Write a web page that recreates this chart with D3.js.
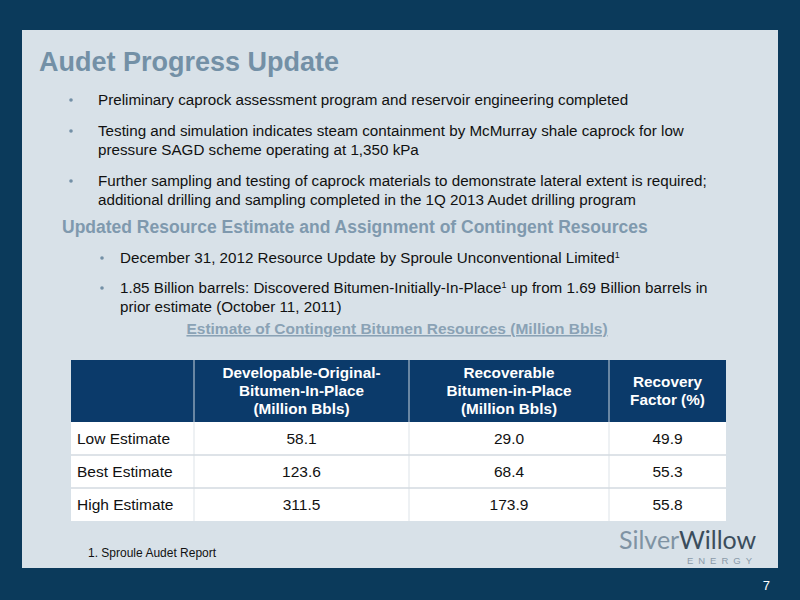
<!DOCTYPE html>
<html><head><meta charset="utf-8">
<script src="https://cdn.jsdelivr.net/npm/d3@7"></script>
<style>body{margin:0;}svg{display:block;font-family:"Liberation Sans",Arial,sans-serif;}</style>
</head><body>
<script>
const title = "Audet Progress Update";
const bullets1 = [
  ["Preliminary caprock assessment program and reservoir engineering completed"],
  ["Testing and simulation indicates steam containment by McMurray shale caprock for low","pressure SAGD scheme operating at 1,350 kPa"],
  ["Further sampling and testing of caprock materials to demonstrate lateral extent is required;","additional drilling and sampling completed in the 1Q 2013 Audet drilling program"]
];
const subtitle = "Updated Resource Estimate and Assignment of Contingent Resources";
const tableTitle = "Estimate of Contingent Bitumen Resources (Million Bbls)";
const headers = [[""],["Developable-Original-","Bitumen-In-Place","(Million Bbls)"],["Recoverable","Bitumen-in-Place","(Million Bbls)"],["Recovery","Factor (%)"]];
const rowLabels = ["Low Estimate","Best Estimate","High Estimate"];
const dobip = ["58.1","123.6","311.5"];
const rbip = ["29.0","68.4","173.9"];
const recovery = ["49.9","55.3","55.8"];

const W=800,H=600;
const svg=d3.select("body").append("svg").attr("width",W).attr("height",H);
svg.append("rect").attr("width",W).attr("height",H).attr("fill","#0b3a5b");
svg.append("rect").attr("x",22).attr("y",30).attr("width",756).attr("height",538).attr("fill","#d8e1e8");
svg.append("text").attr("x",39).attr("y",71).attr("font-size",27).attr("font-weight","bold").attr("fill","#7390a6").text(title);

function bullet(x,y,lines,size,gap){
  svg.append("circle").attr("cx",x).attr("cy",y-5).attr("r",1.8).attr("fill","#7390a6");
  lines.forEach((l,i)=>{
    const t=svg.append("text").attr("x",x+gap).attr("y",y+i*19).attr("font-size",size).attr("fill","#111");
    if(Array.isArray(l)) l.forEach(p=>{const s=t.append("tspan").text(p.t); if(p.sup) s.attr("font-size",9).attr("dy",-5); else if(p.after) s.attr("dy",5);});
    else t.text(l);
  });
}
bullet(71,105,bullets1[0],15.2,27);
bullet(71,136,bullets1[1],15.2,27);
bullet(71,186,bullets1[2],15.2,27);
svg.append("text").attr("x",62).attr("y",233).attr("font-size",17.5).attr("font-weight","bold").attr("fill","#7f99ae").text(subtitle);
bullet(102,263,[[{t:"December 31, 2012 Resource Update by Sproule Unconventional Limited"},{t:"1",sup:true}]],15.2,18);
bullet(102,293,[[{t:"1.85 Billion barrels: Discovered Bitumen-Initially-In-Place"},{t:"1",sup:true},{t:" up from 1.69 Billion barrels in",after:true}],"prior estimate (October 11, 2011)"],15.2,18);

svg.append("text").attr("x",397).attr("y",334).attr("text-anchor","middle").attr("font-size",15.5).attr("font-weight","bold").attr("fill","#8aa2b5").attr("text-decoration","underline").text(tableTitle);

const colX=[71,194,409,609,726];
const headTop=360, headBot=422, rowH=33;
const rows=rowLabels.map((r,i)=>[r,dobip[i],rbip[i],recovery[i]]);
const y=d3.scaleBand().domain(rowLabels).range([headBot,headBot+rowH*rows.length]);
svg.append("rect").attr("x",colX[0]).attr("y",headBot).attr("width",colX[4]-colX[0]).attr("height",rowH*3).attr("fill","#fff");
svg.append("rect").attr("x",colX[0]).attr("y",headTop).attr("width",colX[4]-colX[0]).attr("height",headBot-headTop).attr("fill","#0b3a6a");
headers.forEach((h,c)=>{
  const cx=(colX[c]+colX[c+1])/2;
  const n=h.length, y0=(headTop+headBot)/2-(n-1)*9+5;
  h.forEach((l,k)=>svg.append("text").attr("x",cx).attr("y",y0+k*18).attr("text-anchor","middle").attr("font-size",15.3).attr("font-weight","bold").attr("fill","#fff").text(l));
});
for(let c=1;c<4;c++){
  svg.append("line").attr("x1",colX[c]).attr("x2",colX[c]).attr("y1",headTop).attr("y2",headBot).attr("stroke","#c8d2dc").attr("stroke-width",1);
  svg.append("line").attr("x1",colX[c]).attr("x2",colX[c]).attr("y1",headBot).attr("y2",headBot+rowH*3).attr("stroke","#dde3e8").attr("stroke-width",1);
}
rows.forEach((r,i)=>{
  const yy=y(rowLabels[i]);
  if(i>0) svg.append("line").attr("x1",colX[0]).attr("x2",colX[4]).attr("y1",yy).attr("y2",yy).attr("stroke","#d3dae0").attr("stroke-width",1.5);
  r.forEach((v,c)=>{
    const t=svg.append("text").attr("y",yy+rowH/2+5).attr("font-size",15.5).attr("fill","#111").text(v);
    if(c===0) t.attr("x",colX[0]+6);
    else t.attr("x",(colX[c]+colX[c+1])/2).attr("text-anchor","middle");
  });
});

svg.append("text").attr("x",88).attr("y",557).attr("font-size",12).attr("fill","#111").text("1. Sproule Audet Report");
const lg=svg.append("text").attr("x",619).attr("y",549).attr("font-size",25).attr("font-family","Lato, sans-serif");
lg.append("tspan").attr("fill","#7f93a3").text("Silver");
lg.append("tspan").attr("fill","#3b4d5c").text("Willow");
svg.append("text").attr("x",757).attr("y",564).attr("text-anchor","end").attr("font-size",9.5).attr("letter-spacing",5).attr("fill","#8a9aa8").text("ENERGY");
svg.append("text").attr("x",770).attr("y",590).attr("text-anchor","end").attr("font-size",13).attr("fill","#fff").text("7");
</script></body></html>
